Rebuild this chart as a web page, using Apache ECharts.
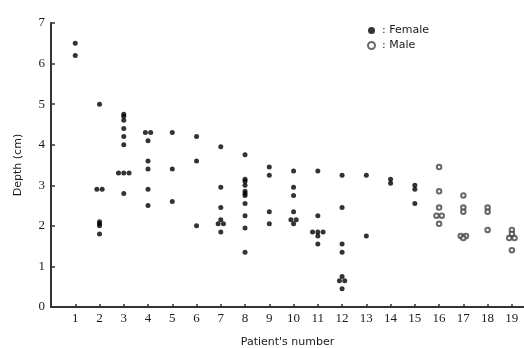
<!DOCTYPE html>
<html>
<head>
<meta charset="utf-8">
<script src="https://cdn.jsdelivr.net/npm/echarts@6/dist/echarts.min.js"></script>
<style>
  html, body { margin: 0; padding: 0; background: #fff; }
  #chart { width: 524px; height: 348px; }
</style>
</head>
<body>
<div id="chart"></div>
<script>
// patient numbers on the x axis
const xTicks = [1, 2, 3, 4, 5, 6, 7, 8, 9, 10, 11, 12, 13, 14, 15, 16, 17, 18, 19]

// female patients 1..15, depth (cm)
const femalePatients = [1, 2, 3, 4, 5, 6, 7, 8, 9, 10, 11, 12, 13, 14, 15]
const femaleDepths = [
  [6.5, 6.2],
  [5.0, 2.9, 2.9, 2.1, 2.05, 2.0, 1.8],
  [4.75, 4.7, 4.6, 4.4, 4.2, 4.0, 3.3, 3.3, 3.3, 2.8],
  [4.3, 4.3, 4.1, 3.6, 3.4, 2.9, 2.5],
  [4.3, 3.4, 2.6],
  [4.2, 3.6, 2.0],
  [3.95, 2.95, 2.45, 2.15, 2.05, 2.05, 1.85],
  [3.75, 3.15, 3.1, 3.0, 2.85, 2.8, 2.75, 2.55, 2.25, 1.95, 1.35],
  [3.45, 3.25, 2.35, 2.05],
  [3.35, 2.95, 2.75, 2.35, 2.15, 2.15, 2.05],
  [3.35, 2.25, 1.85, 1.85, 1.85, 1.75, 1.55],
  [3.25, 2.45, 1.55, 1.35, 0.75, 0.65, 0.65, 0.45],
  [3.25, 1.75],
  [3.15, 3.05],
  [3.0, 2.9, 2.55]
]

// male patients 16..19, depth (cm)
const malePatients = [16, 17, 18, 19]
const maleDepths = [
  [3.45, 2.85, 2.45, 2.25, 2.25, 2.05],
  [2.75, 2.45, 2.35, 1.75, 1.75, 1.7],
  [2.45, 2.35, 1.9],
  [1.9, 1.8, 1.7, 1.7, 1.4]
]

const ink = '#1a1a1a'
const font = 'DejaVu Sans'

// turn the lists into points; equal values sit side by side
function toPoints(patients, depths) {
  const pts = []
  patients.forEach((p, i) => {
    const counts = {}
    depths[i].forEach(d => { counts[d] = (counts[d] || 0) + 1 })
    const seen = {}
    depths[i].forEach(d => {
      const n = counts[d]
      const k = seen[d] || 0
      seen[d] = k + 1
      pts.push({ value: [p, d], symbolOffset: [(k - (n - 1) / 2) * 5.3, 0] })
    })
  })
  return pts
}

const chart = echarts.init(document.getElementById('chart'), null, { renderer: 'canvas' })
chart.setOption({
  animation: false,
  backgroundColor: '#fff',
  textStyle: { fontFamily: font, color: ink },
  grid: { left: 51, right: 0, top: 23, bottom: 41, containLabel: false, outerBoundsMode: 'none' },
  legend: {
    orient: 'vertical',
    left: 362,
    top: 20,
    itemWidth: 7,
    itemHeight: 7,
    itemGap: 4,
    data: [
      { name: 'Female', icon: 'circle' },
      { name: 'Male', icon: 'emptyCircle' }
    ],
    formatter: name => ': ' + name,
    textStyle: { fontFamily: font, fontSize: 11, color: ink, padding: [0, 0, 0, 2] }
  },
  xAxis: {
    type: 'value',
    min: 0,
    max: 19.5,
    interval: 1,
    name: "Patient's number",
    nameLocation: 'middle',
    nameGap: 30,
    nameTextStyle: { fontFamily: font, fontSize: 11, color: ink },
    splitLine: { show: false },
    axisLine: { lineStyle: { color: '#333', width: 2 } },
    axisTick: { inside: true, length: 3, lineStyle: { color: '#333', width: 1.5 } },
    axisLabel: {
      margin: 5,
      fontFamily: 'Liberation Sans Narrow',
      fontSize: 13,
      color: ink,
      showMinLabel: false,
      showMaxLabel: false,
      formatter: v => (xTicks.indexOf(v) >= 0 ? String(v) : '')
    }
  },
  yAxis: {
    type: 'value',
    min: 0,
    max: 7,
    interval: 1,
    name: 'Depth (cm)',
    nameLocation: 'middle',
    nameGap: 27,
    nameTextStyle: { fontFamily: font, fontSize: 11, color: ink },
    splitLine: { show: false },
    axisLine: { lineStyle: { color: '#333', width: 2 } },
    axisTick: { inside: true, length: 4, lineStyle: { color: '#333', width: 1.5 } },
    axisLabel: { margin: 6, fontFamily: 'Liberation Sans Narrow', fontSize: 13, color: ink }
  },
  series: [
    {
      name: 'Female',
      type: 'scatter',
      symbol: 'circle',
      symbolSize: 5,
      itemStyle: { color: '#000' },
      data: toPoints(femalePatients, femaleDepths)
    },
    {
      name: 'Male',
      type: 'scatter',
      symbol: 'emptyCircle',
      symbolSize: 4.5,
      itemStyle: { color: '#444', borderWidth: 1 },
      data: toPoints(malePatients, maleDepths)
    }
  ]
})
</script>
</body>
</html>
